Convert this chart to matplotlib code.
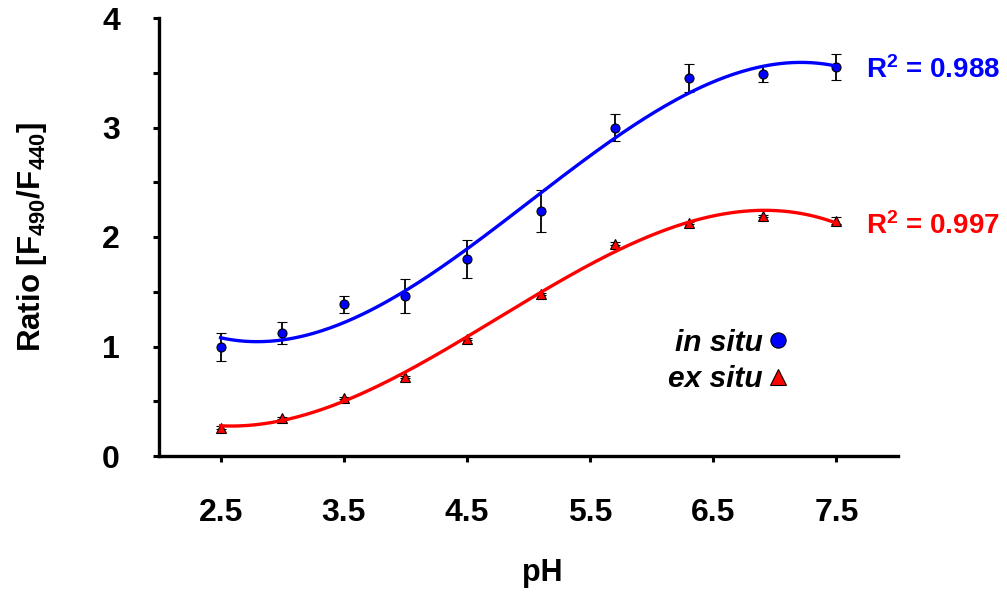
import numpy as np
import matplotlib
matplotlib.use("Agg")
import matplotlib.pyplot as plt
from matplotlib.lines import Line2D

# ---- data ----
ph = [2.5, 3.0, 3.5, 4.0, 4.5, 5.1, 5.7, 6.3, 6.9, 7.5]
in_situ = [0.995, 1.126, 1.385, 1.458, 1.80, 2.24, 3.00, 3.45, 3.49, 3.55]
in_situ_err = [0.13, 0.10, 0.08, 0.155, 0.17, 0.19, 0.12, 0.13, 0.07, 0.12]
ex_situ = [0.26, 0.35, 0.53, 0.72, 1.07, 1.48, 1.94, 2.13, 2.19, 2.15]
ex_situ_err = [0.01, 0.01, 0.01, 0.01, 0.01, 0.01, 0.01, 0.01, 0.01, 0.03]
xticks = [2.5, 3.5, 4.5, 5.5, 6.5, 7.5]
yticks = [0, 1, 2, 3, 4]
r2_in = "0.988"
r2_ex = "0.997"

plt.rcParams['font.family'] = ['Liberation Sans', 'DejaVu Sans']
plt.rcParams['font.weight'] = 'bold'
plt.rcParams['mathtext.fontset'] = 'custom'
plt.rcParams['mathtext.rm'] = 'Liberation Sans:bold'
plt.rcParams['mathtext.bf'] = 'Liberation Sans:bold'
plt.rcParams['mathtext.default'] = 'bf'

BLUE = '#0000FF'
RED = '#FF0000'

fig = plt.figure(figsize=(10.07, 5.95), dpi=100)
ax = fig.add_axes([159/1007, 1-456/595, (898-159)/1007, (456-18)/595])

# polynomial (order 3) trendlines
xf = np.linspace(min(ph), max(ph), 300)
c_in = np.polyfit(ph, in_situ, 3)
c_ex = np.polyfit(ph, ex_situ, 3)

ax.errorbar(ph, in_situ, yerr=in_situ_err, fmt='o', ms=6.5, mfc=BLUE, mec='black',
            mew=0.8, ecolor='black', elinewidth=1.3, capsize=3.5, capthick=1.3, zorder=3)
ax.errorbar(ph, ex_situ, yerr=ex_situ_err, fmt='^', ms=6.5, mfc=RED, mec='black',
            mew=0.8, ecolor='black', elinewidth=1.3, capsize=3.5, capthick=1.3, zorder=3)
ax.plot(xf, np.polyval(c_in, xf), color=BLUE, lw=2.4, zorder=4)
ax.plot(xf, np.polyval(c_ex, xf), color=RED, lw=2.4, zorder=4)

ax.set_xlim(2.0, 8.0)
ax.set_ylim(0, 4)
ax.set_xticks(xticks)
ax.set_xticklabels([f"{v:.1f}" for v in xticks])
ax.set_yticks(yticks)
ax.set_yticks(np.arange(0.5, 4, 1.0), minor=True)

for s in ['top', 'right']:
    ax.spines[s].set_visible(False)
for s in ['left', 'bottom']:
    ax.spines[s].set_linewidth(2.4)

ax.tick_params(axis='both', which='major', direction='out', length=4, width=2.2,
               labelsize=23)
ax.tick_params(axis='y', which='minor', direction='out', length=4, width=2.2)
ax.tick_params(axis='x', which='major', pad=26)
ax.tick_params(axis='y', which='major', pad=24)
for lab in ax.get_xticklabels() + ax.get_yticklabels():
    lab.set_fontweight('bold')

ax.set_xlabel('pH', fontsize=22, fontweight='bold')
ax.xaxis.set_label_coords(0.518, -(573-456)/438, transform=ax.transAxes)
ax.xaxis.label.set_va('center')
ax.set_ylabel(r'Ratio [F$_{490}$/F$_{440}$]', fontsize=22.5, fontweight='bold')
ax.yaxis.set_label_coords(-(159-32)/739, 0.5, transform=ax.transAxes)
ax.yaxis.label.set_va('center')

ax.text(866/1007, 1-70/595, r'R$^{2}$ = ' + r2_in, transform=fig.transFigure,
        color=BLUE, fontsize=20, fontweight='bold', ha='left', va='center')
ax.text(866/1007, 1-226/595, r'R$^{2}$ = ' + r2_ex, transform=fig.transFigure,
        color=RED, fontsize=20, fontweight='bold', ha='left', va='center')

handles = [Line2D([], [], ls='none', marker='o', ms=11, mfc=BLUE, mec='black', mew=0.8),
           Line2D([], [], ls='none', marker='^', ms=11, mfc=RED, mec='black', mew=0.8)]
leg = ax.legend(handles, ['in situ', 'ex situ'], loc='center right',
                bbox_to_anchor=(790/1007, 1-361/595), bbox_transform=fig.transFigure,
                frameon=False, markerfirst=False, handlelength=0.8, handletextpad=0.1,
                labelspacing=0.3, borderpad=0, borderaxespad=0,
                prop={'size': 21.5, 'weight': 'bold', 'style': 'italic'})

fig.savefig('out.png', dpi=100)
